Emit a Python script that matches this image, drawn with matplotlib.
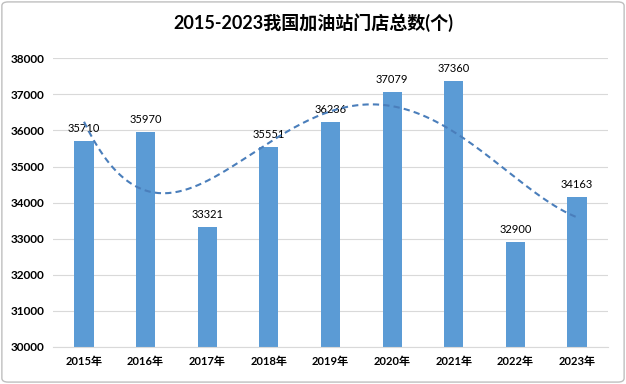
import numpy as np
import matplotlib
matplotlib.use("Agg")
import matplotlib.pyplot as plt
from matplotlib.patches import FancyBboxPatch

years = ["2015年", "2016年", "2017年", "2018年", "2019年", "2020年", "2021年", "2022年", "2023年"]
stores = [35710, 35970, 33321, 35551, 36236, 37079, 37360, 32900, 34163]
yticks = [30000, 31000, 32000, 33000, 34000, 35000, 36000, 37000, 38000]

fonts = ["Lato", "Noto Sans CJK SC", "DejaVu Sans"]
plt.rcParams["font.family"] = fonts

fig = plt.figure(figsize=(6.26, 3.84), dpi=100)
ax = fig.add_axes([0.085, 0.097, 0.886, 0.751])

x = np.arange(len(stores))
ax.bar(x, stores, width=0.31, color="#5B9BD5", zorder=2)

for xi, v in zip(x, stores):
    ax.annotate(str(v), (xi, v), xytext=(0, 5), textcoords="offset points",
                ha="center", va="bottom", fontsize=8, color="#000000")

# polynomial trend line (order 4, like the Excel trendline)
coef = np.polyfit(x + 1, stores, 4)
xs = np.linspace(0, 8, 200)
ax.plot(xs, np.polyval(coef, xs + 1), ls=(0, (3, 2)), lw=1.5, color="#4A7EBB", zorder=3)

ax.set_xlim(-0.5, 8.5)
ax.set_ylim(30000, 38000)
ax.set_yticks(yticks)
ax.set_xticks(x)
ax.set_xticklabels(years, fontsize=8, fontweight="bold")
ax.tick_params(axis="y", labelsize=8.5, length=0, pad=6)
ax.tick_params(axis="x", length=0, pad=7)
for lab in ax.get_yticklabels():
    lab.set_fontweight("bold")
ax.grid(axis="y", color="#D9D9D9", lw=0.8, zorder=0)
for s in ["top", "right", "left"]:
    ax.spines[s].set_visible(False)
ax.spines["bottom"].set_color("#D9D9D9")

fig.text(0.5, 0.94, "2015-2023我国加油站门店总数(个)", ha="center", va="center",
         fontsize=13, fontweight="bold", family=fonts)

border = FancyBboxPatch((0.003, 0.005), 0.994, 0.99, boxstyle="round,pad=0,rounding_size=0.01",
                        transform=fig.transFigure, fill=False, ec="#BFBFBF", lw=1)
fig.patches.append(border)

fig.savefig("out.png", dpi=100)
